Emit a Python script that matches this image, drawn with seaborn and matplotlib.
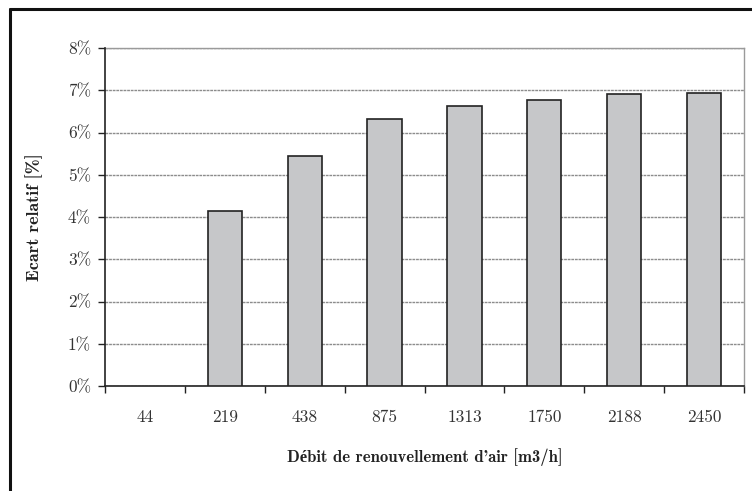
import matplotlib
matplotlib.use("Agg")
import matplotlib.pyplot as plt
import seaborn as sns
import pandas as pd
from matplotlib.lines import Line2D
from matplotlib.ticker import FixedLocator

categories = ["44", "219", "438", "875", "1313", "1750", "2188", "2450"]
values = [0.0, 4.15, 5.45, 6.33, 6.63, 6.78, 6.90, 6.94]
y_ticks = [0, 1, 2, 3, 4, 5, 6, 7, 8]
y_tick_labels = ["0%", "1%", "2%", "3%", "4%", "5%", "6%", "7%", "8%"]
x_label = "Débit de renouvellement d'air [m3/h]"
y_label = "Ecart relatif [%]"

sns.set_theme(style="white")
plt.rcParams["font.family"] = ["cmr10", "Liberation Serif"]

df = pd.DataFrame({"cat": categories, "val": values})

fig = plt.figure(figsize=(7.52, 4.91), dpi=100)
ax = fig.add_axes([105 / 752, 1 - 386 / 491, (744 - 105) / 752, (386 - 48) / 491])

sns.barplot(data=df, x="cat", y="val", order=categories, color="#c6c7c9",
            saturation=1, width=0.43, edgecolor="#222222", linewidth=1.2, ax=ax, zorder=3)
for p in ax.patches:
    if p.get_height() == 0:
        p.set_visible(False)

ax.set_ylim(0, 8)
ax.set_xlim(-0.5, len(categories) - 0.5)
ax.set_yticks(y_ticks)
ax.set_yticklabels(y_tick_labels)
ax.yaxis.grid(True, color="#8c8c8c", linewidth=1.0, linestyle=(0, (2, 0.6)), zorder=0)
ax.xaxis.grid(False)

for s in ["top", "right"]:
    ax.spines[s].set_color("#9a9a9a")
    ax.spines[s].set_linewidth(1.0)
for s in ["left", "bottom"]:
    ax.spines[s].set_color("#222222")
    ax.spines[s].set_linewidth(1.2)
ax.spines["top"].set_zorder(1)

ax.tick_params(axis="y", which="major", direction="out", length=5, width=1.0,
               color="#222222", left=True, labelsize=12.5, labelcolor="#333333", pad=5)
ax.tick_params(axis="x", which="major", length=0, pad=17, labelsize=12.5, labelcolor="#333333")
ax.xaxis.set_minor_locator(FixedLocator([i - 0.5 for i in range(len(categories) + 1)]))
ax.tick_params(axis="x", which="minor", direction="out", length=5, width=1.0,
               color="#222222", bottom=True)

ax.set_xlabel(x_label, fontsize=12, fontweight="bold", family=["cmb10", "Liberation Serif"],
              color="#222222", labelpad=17)
ax.set_ylabel(y_label, fontsize=13, fontweight="bold", family=["cmb10", "Liberation Serif"],
              color="#222222", labelpad=18)

fig.add_artist(Line2D([9.5 / 752, 9.5 / 752], [0, 1 - 9 / 491], transform=fig.transFigure,
                      color="#111111", linewidth=2.2))
fig.add_artist(Line2D([9.5 / 752, 1], [1 - 9 / 491, 1 - 9 / 491], transform=fig.transFigure,
                      color="#111111", linewidth=2.2))

fig.savefig("out.png", dpi=100)
